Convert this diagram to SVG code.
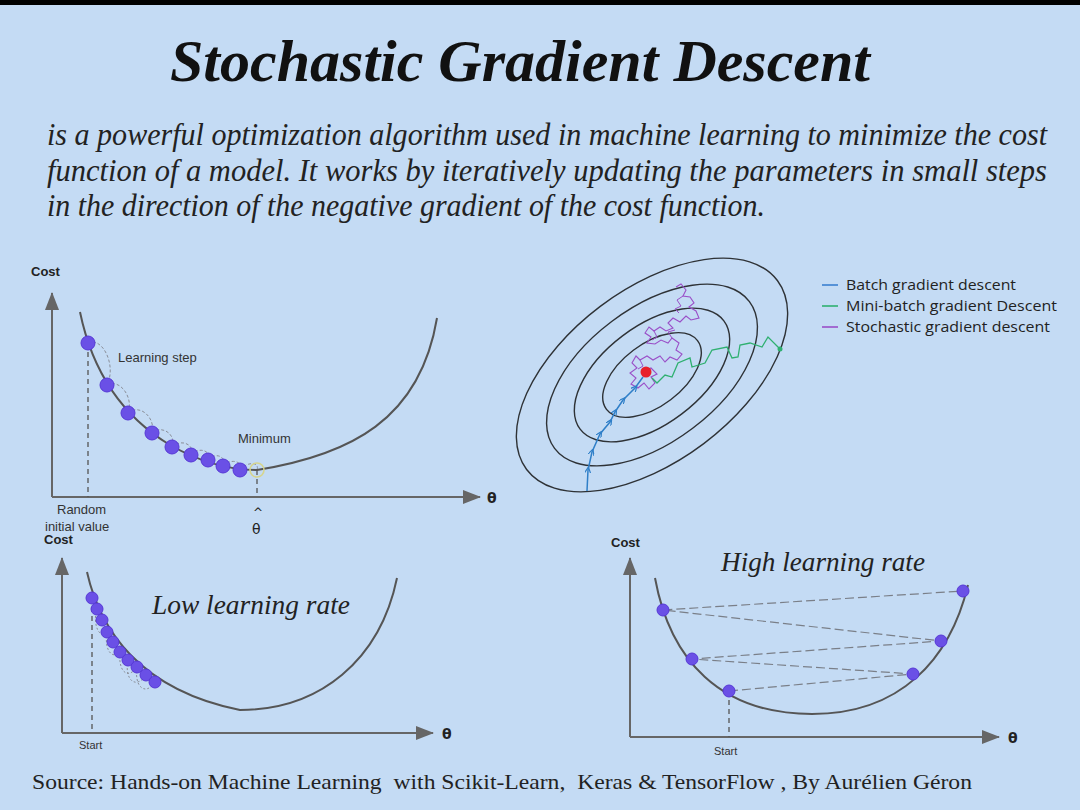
<svg xmlns="http://www.w3.org/2000/svg" width="1080" height="810" viewBox="0 0 1080 810">
<style>
.title{font-family:"Liberation Serif",serif;font-weight:bold;font-style:italic;font-size:60px;fill:#111}
.para{font-family:"Liberation Serif",serif;font-style:italic;font-size:31px;fill:#222}
.sub{font-family:"Liberation Serif",serif;font-style:italic;font-size:27px;fill:#222}
.src{font-family:"Liberation Serif",serif;font-size:22px;fill:#222}
.lab{font-family:"Liberation Sans",Arial,sans-serif;font-size:13px;fill:#333}
.cost{font-family:"Liberation Sans",Arial,sans-serif;font-size:13px;font-weight:bold;fill:#222}
.th{font-family:"DejaVu Sans",sans-serif;font-size:14px;font-weight:bold;fill:#222}
.small{font-family:"Liberation Sans",Arial,sans-serif;font-size:11px;fill:#333}
.leg{font-family:"Open Sans","Noto Sans",sans-serif;font-size:14px;fill:#222}
.axis{stroke:#666;stroke-width:2;fill:none}
.curve{stroke:#555;stroke-width:2;fill:none}
.vdash{stroke:#555;stroke-width:1.3;stroke-dasharray:5 4;fill:none}
.arc{stroke:#8a8f99;stroke-width:1;stroke-dasharray:3 2;fill:none}
.zig{stroke:#7a7f88;stroke-width:1.2;stroke-dasharray:9 4;fill:none}
.dot{fill:#6a50e6;stroke:#5638d6;stroke-width:1}
.ell{stroke:#2e3236;stroke-width:1.4;fill:none}
</style>
<defs>
<marker id="ahs" markerWidth="18" markerHeight="14" refX="17" refY="7" orient="auto" markerUnits="userSpaceOnUse">
<path d="M0,0 L18,7 L0,14 Z" fill="#666"/>
</marker>
<marker id="bm" markerWidth="6" markerHeight="6" refX="3" refY="3" orient="auto" markerUnits="userSpaceOnUse">
<path d="M0,0 L6,3 L0,6" fill="none" stroke="#2f7fc8" stroke-width="1.2"/>
</marker>
</defs>
<rect x="0" y="0" width="1080" height="810" fill="#c4dbf4"/>
<rect x="0" y="0" width="1080" height="5" fill="#000"/>

<g id="header">
<text class="title" x="170" y="81" textLength="700" lengthAdjust="spacingAndGlyphs">Stochastic Gradient Descent</text>
<text class="para" x="47" y="145" textLength="1000" lengthAdjust="spacingAndGlyphs">is a powerful optimization algorithm used in machine learning to minimize the cost</text>
<text class="para" x="47" y="181" textLength="1000" lengthAdjust="spacingAndGlyphs">function of a model. It works by iteratively updating the parameters in small steps</text>
<text class="para" x="47" y="216" textLength="718" lengthAdjust="spacingAndGlyphs">in the direction of the negative gradient of the cost function.</text>
</g>

<g id="chart-learning-step">
<path class="axis" d="M52,497 L52,293" marker-end="url(#ahs)"/>
<path class="axis" d="M52,497 L480,497" marker-end="url(#ahs)"/>
<text class="cost" x="31" y="276">Cost</text>
<text class="th" x="487" y="503">θ</text>
<path class="curve" d="M80,312 C92,370 120,415 170,445 C200,462 230,470 257,470 C350,455 420,420 437,318"/>
<path class="vdash" d="M88,343 L88,497"/>
<path class="vdash" d="M257,470 L257,497"/>
<path class="arc" d="M88,343 C102,336 117,365 107,385"/>
<path class="arc" d="M107,385 C120,378 134,398 128,413"/>
<path class="arc" d="M128,413 C140,403 156,418 152,433"/>
<path class="arc" d="M152,433 C162,424 177,435 172,447"/>
<path class="arc" d="M172,447 C182,438 195,445 191,455"/>
<path class="arc" d="M191,455 C199,446 212,451 208,460"/>
<path class="arc" d="M208,460 C215,452 227,456 223,466"/>
<path class="arc" d="M223,466 C230,458 244,461 240,470"/>
<path class="arc" d="M240,470 C247,461 260,462 257,470"/>
<circle class="dot" cx="88" cy="343" r="7"/>
<circle class="dot" cx="107" cy="385" r="7"/>
<circle class="dot" cx="128" cy="413" r="7"/>
<circle class="dot" cx="152" cy="433" r="7"/>
<circle class="dot" cx="172" cy="447" r="7"/>
<circle class="dot" cx="191" cy="455" r="7"/>
<circle class="dot" cx="208" cy="460" r="7"/>
<circle class="dot" cx="223" cy="466" r="7"/>
<circle class="dot" cx="240" cy="470" r="7"/>
<circle cx="257" cy="470" r="7" fill="none" stroke="#d6d58e" stroke-width="1.6"/>
<text class="lab" x="118" y="362">Learning step</text>
<text class="lab" x="238" y="443">Minimum</text>
<text class="lab" x="57" y="514">Random</text>
<text class="lab" x="45" y="531">initial value</text>
<text class="th" x="253" y="517" style="font-weight:normal;font-size:12px">^</text>
<text class="th" x="252" y="534" style="font-weight:normal">θ</text>
</g>

<g id="chart-contours">
<g transform="translate(652,375) rotate(-37)">
<ellipse class="ell" cx="0" cy="0" rx="157" ry="86"/>
<ellipse class="ell" cx="0" cy="0" rx="122" ry="67"/>
<ellipse class="ell" cx="0" cy="0" rx="90" ry="49"/>
<ellipse class="ell" cx="0" cy="0" rx="57" ry="31"/>
</g>
<path d="M676,287 L681,284 L686,290 L683,296 L690,297 L694,303 L689,307 L696,311 L699,318 L691,320 L686,316 L680,322 L673,318 L668,323 L673,328 L666,331 L660,327 L654,331 L649,327 L645,333 L651,337 L647,343 L655,344 L661,340 L668,343 L672,338 L679,343 L676,350 L682,354 L677,360 L670,357 L665,362 L660,356 L653,360 L647,356 L640,360 L636,356 L632,363 L637,368 L630,373 L636,378 L631,384 L638,388 L644,383 L649,389 L655,383 L651,377 L657,374 L651,368 L644,371" fill="none" stroke="#9a4fc8" stroke-width="1.1"/>
<path d="M683,296 L677,300 L681,306 L675,309 L679,313 M654,331 L657,337 L652,340 M672,338 L668,332 L675,330 M640,360 L643,366 L638,369" fill="none" stroke="#9a4fc8" stroke-width="1"/>
<path d="M780,349 L768,337 L762,347 L750,343 L740,345 L738,357 L732,358 L727,347 L712,350 L705,363 L692,367 L690,358 L678,363 L672,377 L665,375 L657,383 L652,378" fill="none" stroke="#2fb070" stroke-width="1.3"/>
<circle cx="780" cy="349" r="2.5" fill="#2fb070"/>
<polyline points="587,491 588,470 592,452 600,434 610,422 615,412 623,400 635,388 643,377" fill="none" stroke="#2f7fc8" stroke-width="1.5" marker-mid="url(#bm)"/>
<circle cx="646" cy="372" r="5.5" fill="#e8202a"/>
</g>

<g id="legend">
<line x1="822" y1="285" x2="838" y2="285" stroke="#3a7fd0" stroke-width="1.6"/>
<line x1="822" y1="306" x2="838" y2="306" stroke="#2fb070" stroke-width="1.6"/>
<line x1="822" y1="327" x2="838" y2="327" stroke="#9a4fc8" stroke-width="1.6"/>
<text class="leg" x="846" y="290" textLength="170" lengthAdjust="spacingAndGlyphs">Batch gradient descent</text>
<text class="leg" x="846" y="311" textLength="211" lengthAdjust="spacingAndGlyphs">Mini-batch gradient Descent</text>
<text class="leg" x="846" y="332" textLength="204" lengthAdjust="spacingAndGlyphs">Stochastic gradient descent</text>
</g>

<g id="chart-low-rate">
<path class="axis" d="M62,733 L62,558" marker-end="url(#ahs)"/>
<path class="axis" d="M62,733 L433,733" marker-end="url(#ahs)"/>
<text class="cost" x="44" y="544">Cost</text>
<text class="th" x="442" y="739">θ</text>
<path class="curve" d="M87,572 C100,630 140,690 240,710 C320,710 380,660 397,578"/>
<path class="vdash" d="M92,598 L92,733"/>
<path class="arc" d="M97,608 C92,625 100,640 107,632 M107,632 C104,650 112,660 120,652 M120,652 C118,672 128,680 137,667 M128,660 C124,680 136,690 146,675 M137,667 C134,688 146,696 155,682" style="stroke-dasharray:2 2"/>
<circle class="dot" cx="92" cy="598" r="6"/>
<circle class="dot" cx="97" cy="609" r="6"/>
<circle class="dot" cx="102" cy="620" r="6"/>
<circle class="dot" cx="107" cy="632" r="6"/>
<circle class="dot" cx="113" cy="642" r="6"/>
<circle class="dot" cx="120" cy="652" r="6"/>
<circle class="dot" cx="128" cy="660" r="6"/>
<circle class="dot" cx="137" cy="667" r="6"/>
<circle class="dot" cx="146" cy="675" r="6"/>
<circle class="dot" cx="155" cy="682" r="6"/>
<text class="small" x="79" y="749">Start</text>
<text class="sub" x="152" y="614" textLength="198" lengthAdjust="spacingAndGlyphs">Low learning rate</text>
</g>

<g id="chart-high-rate">
<path class="axis" d="M630,737 L630,558" marker-end="url(#ahs)"/>
<path class="axis" d="M630,737 L999,737" marker-end="url(#ahs)"/>
<text class="cost" x="611" y="547">Cost</text>
<text class="th" x="1008" y="743">θ</text>
<path class="curve" d="M655,578 C670,660 720,714 812,714 C900,714 950,660 968,585"/>
<path class="vdash" d="M729,691 L729,737"/>
<path class="zig" d="M729,691 L913,674 L692,659 L941,641 L663,610 L963,591"/>
<circle class="dot" cx="663" cy="610" r="6"/>
<circle class="dot" cx="692" cy="659" r="6"/>
<circle class="dot" cx="729" cy="691" r="6"/>
<circle class="dot" cx="913" cy="674" r="6"/>
<circle class="dot" cx="941" cy="641" r="6"/>
<circle class="dot" cx="963" cy="591" r="6"/>
<text class="small" x="714" y="755">Start</text>
<text class="sub" x="721" y="571" textLength="204" lengthAdjust="spacingAndGlyphs">High learning rate</text>
</g>

<g id="source">
<text class="src" x="32" y="789" textLength="940" lengthAdjust="spacingAndGlyphs" xml:space="preserve">Source: Hands-on Machine Learning  with Scikit-Learn,  Keras &amp; TensorFlow , By Aurélien Géron</text>
</g>
</svg>
